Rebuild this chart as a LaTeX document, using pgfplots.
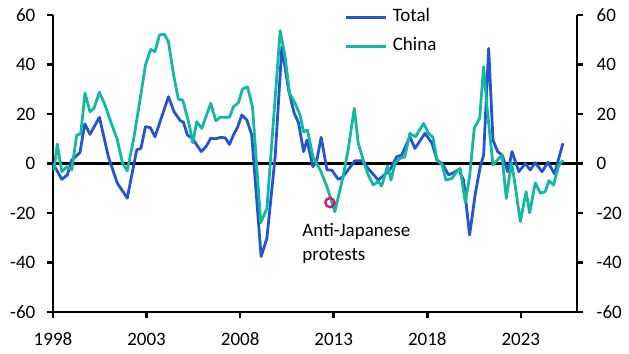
\documentclass[border=0pt]{standalone}
\usepackage{pgfplots}
\pgfplotsset{compat=1.18}
\usepackage{fontspec}
\setmainfont{Carlito}
\definecolor{ceblue}{RGB}{35,85,210}
\definecolor{ceteal}{RGB}{20,184,162}
\definecolor{cemag}{RGB}{212,25,120}
\newcommand{\fs}{\fontsize{19bp}{23bp}\selectfont}
\begin{document}
\begin{tikzpicture}
\useasboundingbox (0,0) rectangle (629bp,354bp);
\pgfplotsset{
  common/.style={
    at={(53bp,42bp)}, anchor=south west, scale only axis,
    width=524bp, height=297bp,
    xmin=1998, xmax=2026, ymin=-60, ymax=60,
    tick align=outside, major tick length=6.5bp,
    tick style={black, line width=2.6bp},
    axis line style={black, line width=2.6bp},
    ticklabel style={font=\fs},
    ytick={-60,-40,-20,0,20,40,60},
    yticklabels={-60,-40,-20,0,20,40,60},
    clip=false,
  }
}
\begin{axis}[common,
  axis x line*=bottom, axis y line*=left,
  xtick={1998,2003,2008,2013,2018,2023},
  xticklabels={1998,2003,2008,2013,2018,2023},
  xticklabel style={anchor=north, inner sep=0pt, yshift=-14bp},
  yticklabel style={anchor=east, inner sep=0pt, xshift=-11bp},
  legend style={at={(rel axis cs:0.557,1.021)}, anchor=north west, draw=none, fill=none,
    font=\fs, inner sep=0pt, row sep=12bp, column sep=5bp,
    nodes={inner sep=0pt, text height=13bp, text depth=4bp}},
  legend cell align=left,
  legend image code/.code={\draw[#1] (0bp,0bp) -- (40bp,0bp);},
]
\addplot[black, line width=2.6bp, forget plot] coordinates {(1998,0) (2026,0)};
\addplot[ceblue, line width=2.8bp, line join=round] coordinates {
(1998.0,0) (1998.47,-6.4) (1998.77,-4.6) (1999.0,1.4) (1999.44,4.4) (1999.7,16) (1999.98,11.8) (2000.48,18.7) (2000.96,2.7) (2001.44,-8) (2001.97,-14) (2002.47,5.5) (2002.7,6.1) (2002.94,14.9) (2003.2,14.5) (2003.45,10.8) (2004.17,27) (2004.47,20.9) (2004.8,17.3) (2004.97,16.7) (2005.18,11.5) (2005.45,10.2) (2005.68,7.5) (2005.93,4.8) (2006.2,7.1) (2006.43,10.2) (2006.7,10) (2006.93,10.5) (2007.2,10.4) (2007.43,7.7) (2007.64,11.5) (2007.86,14.6) (2008.09,19.6) (2008.36,17.6) (2008.62,11.5) (2009.12,-37.6) (2009.43,-30.2) (2009.87,2.7) (2010.23,47.2) (2010.58,30) (2010.89,20.3) (2011.12,16.5) (2011.39,4.8) (2011.57,9.5) (2011.89,-1.3) (2012.1,1.4) (2012.33,10.6) (2012.64,-2.6) (2012.9,-2.7) (2013.24,-6.4) (2013.5,-5.3) (2014.13,1.1) (2014.49,1.1) (2014.84,-2) (2015.38,-6.7) (2015.6,-5.3) (2016.0,-2.6) (2016.36,2.7) (2016.63,3.4) (2017.07,10.8) (2017.34,6.1) (2017.88,12.2) (2018.25,8.2) (2018.52,1.4) (2018.79,0) (2019.14,-4.6) (2019.41,-3.7) (2019.68,-2.4) (2019.94,-6.7) (2020.26,-28.9) (2020.57,-12) (2020.83,-1.3) (2021.01,3.4) (2021.28,46.5) (2021.51,9.5) (2021.76,4.8) (2022.0,3.4) (2022.3,-3.3) (2022.53,4.8) (2022.89,-3.3) (2023.24,0) (2023.5,-2.6) (2023.77,0.3) (2024.13,-3.3) (2024.45,0.5) (2024.8,-4.2) (2025.25,8.2)
};
\addlegendentry{Total}
\addplot[ceteal, line width=2.8bp, line join=round] coordinates {
(1998.05,-2.6) (1998.23,7.9) (1998.47,-3.3) (1998.74,-1.3) (1999.0,-2.6) (1999.27,11.5) (1999.48,11.9) (1999.71,28.4) (1999.98,20.9) (2000.19,22.3) (2000.48,28.8) (2000.78,23.6) (2001.05,17.6) (2001.44,9.5) (2001.72,0) (2001.97,-2.9) (2002.3,9.5) (2002.65,25.7) (2002.94,39.8) (2003.22,46.1) (2003.45,45.2) (2003.69,51.9) (2003.94,52.3) (2004.17,49.2) (2004.43,36.4) (2004.7,25.9) (2004.93,25.7) (2005.24,16.9) (2005.47,8.4) (2005.68,16.9) (2005.95,14.2) (2006.43,24.3) (2006.7,17.3) (2006.93,18.7) (2007.43,18.7) (2007.64,22.9) (2007.91,24.6) (2008.12,30) (2008.39,31) (2008.66,22.9) (2009.1,-23.9) (2009.43,-18.1) (2010.14,53.7) (2010.4,43.2) (2010.64,28.4) (2010.94,24.3) (2011.2,19.6) (2011.39,12.8) (2011.6,13.5) (2011.89,2.7) (2012.28,-2.6) (2012.64,-9.4) (2013.06,-19.5) (2013.5,-5.3) (2013.77,5.5) (2014.1,22.3) (2014.31,8.2) (2014.58,1.4) (2014.84,-4.6) (2015.11,-8.7) (2015.38,-7.3) (2015.56,-9.1) (2015.88,-1) (2016.06,-6.7) (2016.27,0) (2016.54,2.1) (2016.8,2.7) (2017.07,12.2) (2017.37,10.8) (2017.8,16.2) (2018.07,12.2) (2018.3,10.6) (2018.52,1.4) (2018.79,-0.6) (2019.0,-6.7) (2019.32,-6) (2019.55,-3.5) (2019.76,-2) (2020.03,-15.8) (2020.26,-5.3) (2020.51,14.2) (2020.8,18.3) (2021.01,39.1) (2021.19,22.9) (2021.51,-0.6) (2021.99,3.4) (2022.22,-14.1) (2022.5,0.5) (2022.68,-8) (2022.97,-23.5) (2023.28,-11.4) (2023.47,-19.9) (2023.77,-7.8) (2024.04,-12) (2024.3,-11.4) (2024.5,-6.9) (2024.75,-8.7) (2025.0,-1.3) (2025.25,1.4)
};
\addlegendentry{China}
\addplot[only marks, mark=o, mark size=4.6bp, cemag, line width=2.4bp, forget plot] coordinates {(2012.8,-15.8)};
\node[anchor=base west, font=\fs, inner sep=0pt] at (axis cs:2011.32,-29.3) {Anti-Japanese};
\node[anchor=base west, font=\fs, inner sep=0pt] at (axis cs:2011.32,-39) {protests};
\end{axis}
\begin{axis}[common,
  axis x line=none, axis y line*=right,
  yticklabel pos=right,
  yticklabel style={anchor=west, inner sep=0pt, xshift=13bp},
]
\addplot[draw=none, forget plot] coordinates {(2000,0)};
\end{axis}
\end{tikzpicture}
\end{document}
